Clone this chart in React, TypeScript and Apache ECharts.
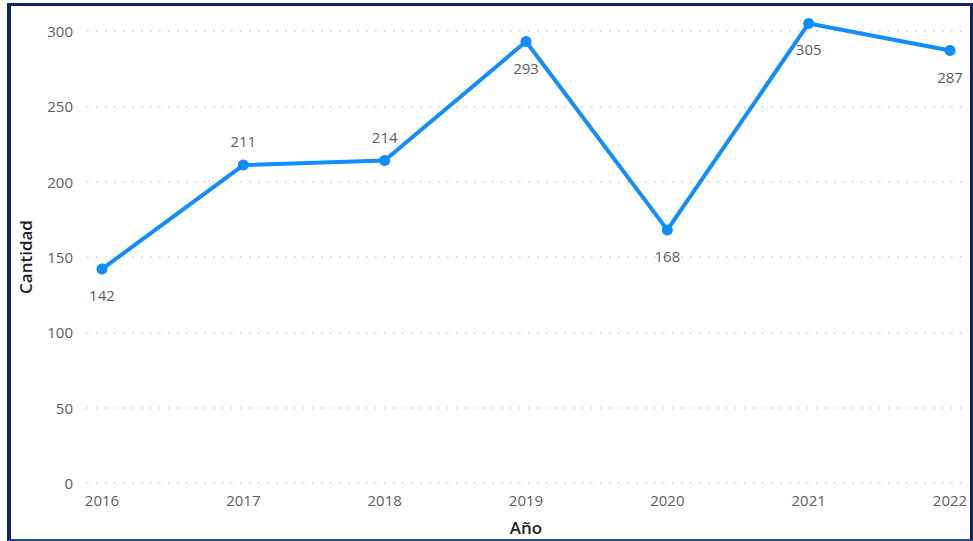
import React, { useEffect, useRef } from "react";
import * as echarts from "echarts";

const years = [2016, 2017, 2018, 2019, 2020, 2021, 2022];
const cantidad = [142, 211, 214, 293, 168, 305, 287];
const labelSide = ["bottom", "top", "top", "bottom", "bottom", "bottom", "bottom"];
const yTicks = [0, 50, 100, 150, 200, 250, 300];

export default function App() {
  const ref = useRef<HTMLDivElement>(null);
  useEffect(() => {
    if (!ref.current) return;
    const chart = echarts.init(ref.current, null, { renderer: "svg" });
    const font = "'Open Sans', 'Noto Sans', sans-serif";
    chart.setOption({
      animation: false,
      backgroundColor: "#ffffff",
      grid: { left: 87, right: 8, top: 31, bottom: 58 },
      xAxis: {
        type: "value",
        min: 2015.894,
        max: 2022.106,
        name: "Año",
        nameLocation: "middle",
        nameGap: 36,
        nameTextStyle: { color: "#252423", fontSize: 17, fontWeight: 600, fontFamily: font },
        axisLine: { show: false },
        axisTick: { show: false },
        splitLine: { show: false },
        axisLabel: {
          customValues: years,
          formatter: (v: number) => String(Math.round(v)),
          color: "#605E5C",
          fontSize: 15,
          fontFamily: font,
          margin: 9,
        },
      },
      yAxis: {
        type: "value",
        min: 0,
        max: yTicks[yTicks.length - 1],
        interval: 50,
        name: "Cantidad",
        nameLocation: "middle",
        nameGap: 53,
        nameTextStyle: { color: "#252423", fontSize: 17, fontWeight: 600, fontFamily: font },
        axisLine: { show: false },
        axisTick: { show: false },
        axisLabel: { color: "#605E5C", fontSize: 15, fontFamily: font, margin: 14 },
        splitLine: { lineStyle: { color: "#cccccc", type: [1.5, 7.5], width: 1.5 } },
      },
      series: [
        {
          type: "line",
          clip: false,
          data: years.map((y, i) => ({
            value: [y, cantidad[i]],
            label: {
              position: labelSide[i],
              distance: labelSide[i] === "top" ? 11 : 13,
            },
          })),
          symbol: "circle",
          symbolSize: 11,
          itemStyle: { color: "#118DFF" },
          lineStyle: { color: "#118DFF", width: 4 },
          label: {
            show: true,
            color: "#605E5C",
            fontSize: 15,
            fontFamily: font,
            formatter: (p: any) => String(p.value[1]),
          },
        },
      ],
    });
    return () => chart.dispose();
  }, []);
  return (
    <div style={{ position: "fixed", left: 0, top: 0, width: 973, height: 541, background: "#fff" }}>
      <div ref={ref} style={{ position: "absolute", left: 0, top: 0, width: 973, height: 541 }} />
      <div
        style={{
          position: "absolute",
          left: 7,
          top: 3,
          width: 966,
          height: 538,
          boxSizing: "border-box",
          borderLeft: "4px solid #0b2567",
          borderTop: "3px solid #0b2567",
          borderRight: "3px solid #0b2567",
          borderBottom: "2px solid #2a4a86",
          pointerEvents: "none",
        }}
      />
    </div>
  );
}
